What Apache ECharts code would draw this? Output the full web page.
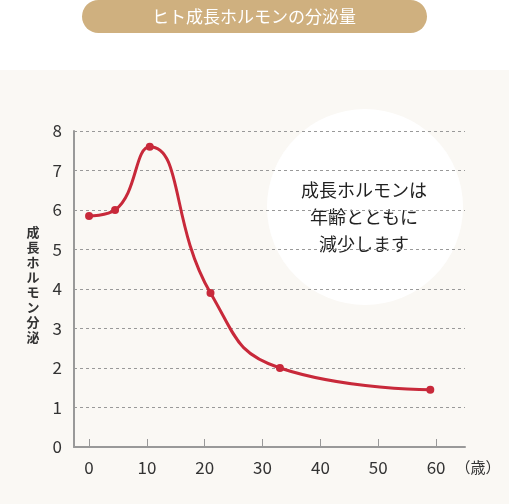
<!DOCTYPE html>
<html><head><meta charset="utf-8">
<script src="https://cdn.jsdelivr.net/npm/echarts@6/dist/echarts.min.js"></script>
<style>html,body{margin:0;padding:0;background:#fff}#c{width:509px;height:504px}</style>
</head><body><div id="c"></div>
<script>
// 年齢(歳)と分泌量
var ages = [0, 4.5, 10.5, 21, 33, 59];
var amounts = [5.85, 6.0, 7.6, 3.9, 2.0, 1.45];
var xTicks = [0, 10, 20, 30, 40, 50, 60];
var font = '"Noto Sans CJK JP", sans-serif';
var chart = echarts.init(document.getElementById('c'));
chart.setOption({
    animation: false,
    graphic: [
        {type:'rect', z:-10, shape:{x:0,y:70,width:509,height:434}, style:{fill:'#faf8f4'}},
        {type:'rect', shape:{x:82,y:0,width:345,height:33,r:16.5}, style:{fill:'#cfb07f'}},
        {type:'text', x:254, y:17, style:{text:'ヒト成長ホルモンの分泌量', fill:'#fff', font:'17px '+font, align:'center', verticalAlign:'middle'}},
        {type:'circle', z:-5, shape:{cx:365,cy:207,r:98}, style:{fill:'#fff'}},
        {type:'text', x:364, y:217, style:{text:'成長ホルモンは\n年齢とともに\n減少します', fill:'#222', font:'18px '+font, lineHeight:27, align:'center', verticalAlign:'middle'}},
        {type:'text', x:33, y:285, style:{text:'成\n長\nホ\nル\nモ\nン\n分\n泌', fill:'#333', font:'bold 13px '+font, lineHeight:15, align:'center', verticalAlign:'middle'}},
        {type:'text', x:478, y:467, style:{text:'（歳）', fill:'#333', font:'15px '+font, align:'center', verticalAlign:'middle'}}
    ],
    grid: {left:74, right:44, top:131, bottom:57},
    xAxis: {
        type:'value', min:-2.6, max:65,
        axisLine:{onZero:false, lineStyle:{color:'#999', width:2}},
        axisTick:{show:true, inside:true, length:8, customValues:xTicks, lineStyle:{color:'#999'}},
        axisLabel:{customValues:xTicks, color:'#333', fontSize:17, margin:12, fontFamily:font},
        splitLine:{show:false}
    },
    yAxis: {
        type:'value', min:0, max:8, interval:1,
        axisLine:{show:true, onZero:false, lineStyle:{color:'#999', width:2}},
        axisTick:{show:false},
        axisLabel:{color:'#333', fontSize:17, margin:12, fontFamily:font},
        splitLine:{lineStyle:{color:'#999', type:[3,3], width:1}}
    },
    series: [{
        type:'line', smooth:0.5,
        data: ages.map(function(a,i){return [a, amounts[i]];}),
        symbol:'circle', symbolSize:8,
        lineStyle:{color:'#c8293a', width:3},
        itemStyle:{color:'#c8293a'}
    }]
});
</script></body></html>
